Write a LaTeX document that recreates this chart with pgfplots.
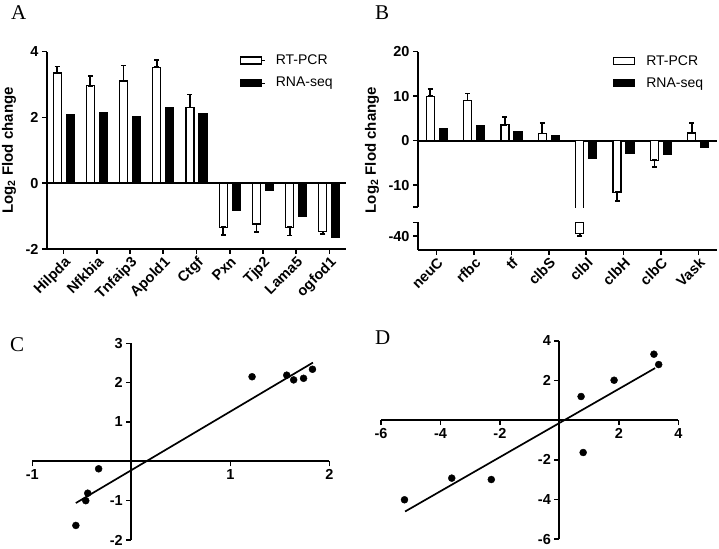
\documentclass[border=0pt]{standalone}
\usepackage{fontspec}
\setmainfont{Liberation Sans}
\newfontfamily\seriffont{Liberation Serif}
\usepackage{pgfplots}
\usepackage{pgfplotstable}
\pgfplotsset{compat=1.18}
\pgfplotsset{
  base/.style={
    scale only axis,
    enlargelimits=false,
    /pgf/number format/assume math mode=true,
    tick label style={font=\bfseries\fontsize{14.5}{16}\selectfont},
    axis line style={line width=1.8pt},
    major tick length=5pt,
    tick style={line width=1.6pt, black},
    tick align=outside,
    error bars/error bar style={line width=1.8pt, black},
    error bars/error mark options={line width=1.8pt, mark size=2.5pt, black, rotate=90},
  },
  rtbar/.style={draw=black, fill=white, line width=1.2pt, bar width=8pt, bar shift=-6.5pt},
  rnabar/.style={draw=black, fill=black, line width=1.2pt, bar width=8pt, bar shift=6.5pt},
  catlabels/.style={xticklabel style={rotate=45, anchor=north east, inner sep=1pt, font=\bfseries\fontsize{14.5}{16}\selectfont}},
  mylegend/.style={legend style={at={#1}, anchor=north west, draw=none, fill=none,
     font=\fontsize{14}{16}\selectfont, row sep=7pt, inner sep=0pt, column sep=9pt},
     legend cell align=left},
}
\pgfplotstableread{
x rt rtp rtm rna
0 3.35 0.20 0 2.09
1 2.96 0.29 0 2.15
2 3.11 0.47 0 2.04
3 3.53 0.21 0 2.31
4 2.30 0.40 0 2.11
5 -1.34 0 0.23 -0.84
6 -1.24 0 0.25 -0.22
7 -1.34 0 0.25 -1.02
8 -1.47 0 0.07 -1.65
}\tabA
\pgfplotstableread{
x rt rtp rtm
0 10.0 1.6 0
1 9.0 1.6 0
2 3.6 1.8 0
3 1.6 2.3 0
5 -11.6 0 1.9
6 -4.4 0 1.5
7 1.7 2.2 0
}\tabBrt
\pgfplotstableread{
x rna
0 2.8
1 3.3
2 2.0
3 1.2
4 -4.0
5 -2.9
6 -3.0
7 -1.6
}\tabBrna
\begin{document}
\begin{tikzpicture}
\useasboundingbox (0,0) rectangle (719pt,548pt);
% Panel letters
\node[anchor=base west, inner sep=0pt, font=\seriffont\fontsize{21}{21}\selectfont] at (11pt,528pt) {A};
\node[anchor=base west, inner sep=0pt, font=\seriffont\fontsize{21}{21}\selectfont] at (375pt,528pt) {B};
\node[anchor=base west, inner sep=0pt, font=\seriffont\fontsize{21}{21}\selectfont] at (10pt,196.3pt) {C};
\node[anchor=base west, inner sep=0pt, font=\seriffont\fontsize{21}{21}\selectfont] at (375pt,203pt) {D};

% Panel A
\begin{axis}[base, ybar, catlabels, mylegend={(0.645,0.995)},
  at={(47pt,299pt)}, anchor=south west, width=299pt, height=197.3pt,
  xmin=-0.5, xmax=8.5, ymin=-2, ymax=4, ytick={-2,0,2,4},
  axis x line*=bottom, axis y line*=left,
  xtick={0,...,8}, xticklabels={Hilpda,Nfkbia,Tnfaip3,Apold1,Ctgf,Pxn,Tjp2,Lama5,ogfod1},
  ylabel={Log\textsubscript{2} Flod change},
  ylabel style={font=\bfseries\fontsize{15}{17}\selectfont, at={(rel axis cs:0,0.5)}, yshift=38pt, anchor=center},
]
\addplot[rtbar, forget plot, error bars/.cd, y dir=both, y explicit]
  table[x=x, y=rt, y error plus=rtp, y error minus=rtm] {\tabA};
\addplot[rnabar, forget plot] table[x=x, y=rna] {\tabA};
\draw[line width=1.8pt] (axis cs:-0.5,0) -- (axis cs:8.5,0);
\addlegendimage{legend image code/.code={\draw[draw=black,fill=white,line width=1.2pt] (0pt,-3.5pt) rectangle (21pt,3.5pt); \path (21pt,0pt) -- (24pt,0pt);}}
\addlegendentry{RT-PCR}
\addlegendimage{legend image code/.code={\draw[draw=black,fill=black,line width=1.2pt] (0pt,-3.5pt) rectangle (21pt,3.5pt); \path (21pt,0pt) -- (24pt,0pt);}}
\addlegendentry{RNA-seq}
\end{axis}

% Panel B top
\begin{axis}[base, ybar, mylegend={(0.652,0.99)},
  at={(418pt,340.7pt)}, anchor=south west, width=299pt, height=155.6pt,
  xmin=-0.5, xmax=7.5, ymin=-15, ymax=20, ytick={-10,0,10,20},
  extra y ticks={-15}, extra y tick labels={},
  axis y line*=left, axis x line*=middle, xtick=\empty,
  ylabel={Log\textsubscript{2} Flod change},
  ylabel style={font=\bfseries\fontsize{15}{17}\selectfont, at={(rel axis cs:0,0.368)}, yshift=46pt, anchor=center},
]
\addplot[rtbar, forget plot, error bars/.cd, y dir=both, y explicit]
  table[x=x, y=rt, y error plus=rtp, y error minus=rtm] {\tabBrt};
\addplot[rtbar, forget plot] coordinates {(4,-39.4)};
\addplot[rnabar, forget plot] table[x=x, y=rna] {\tabBrna};
\addlegendimage{legend image code/.code={\draw[draw=black,fill=white,line width=1.2pt] (0pt,-3.5pt) rectangle (21pt,3.5pt);}}
\addlegendentry{RT-PCR}
\addlegendimage{legend image code/.code={\draw[draw=black,fill=black,line width=1.2pt] (0pt,-3.5pt) rectangle (21pt,3.5pt);}}
\addlegendentry{RNA-seq}
\end{axis}

% Panel B bottom
\begin{axis}[base, ybar, catlabels,
  at={(418pt,298pt)}, anchor=south west, width=299pt, height=27.7pt,
  xmin=-0.5, xmax=7.5, ymin=-43, ymax=-37, ytick={-40},
  extra y ticks={-37}, extra y tick labels={},
  axis y line*=left, axis x line*=bottom,
  xtick={0,...,7}, xticklabels={neuC,rfbc,tf,clbS,clbI,clbH,clbC,Vask},
]
\addplot[rtbar, forget plot, error bars/.cd, y dir=both, y explicit]
  coordinates {(4,-39.4) -= (0,0.5)};
\end{axis}

% Panel C
\begin{axis}[base,
  at={(32.3pt,8pt)}, anchor=south west, width=297pt, height=196.7pt,
  xmin=-1, xmax=2, ymin=-2, ymax=3, axis lines*=middle,
  xtick={-1,1,2}, ytick={-2,-1,1,2,3}, clip=false,
]
\addplot[only marks, mark=*, mark size=3.5pt, black] coordinates {
(-0.56,-1.63) (-0.46,-1.00) (-0.44,-0.81) (-0.33,-0.19) (1.22,2.15)
(1.57,2.19) (1.64,2.07) (1.74,2.11) (1.83,2.34)};
\addplot[line width=1.7pt, black] coordinates {(-0.56,-1.06) (1.835,2.51)};
\end{axis}

% Panel D
\begin{axis}[base,
  at={(381pt,8.7pt)}, anchor=south west, width=297.3pt, height=198.6pt,
  xmin=-6, xmax=4, ymin=-6, ymax=4, axis lines*=middle,
  xtick={-6,-4,-2,2,4}, ytick={-6,-4,-2,2,4}, clip=false,
]
\addplot[only marks, mark=*, mark size=3.5pt, black] coordinates {
(-5.21,-4.01) (-3.62,-2.92) (-2.29,-2.99) (0.73,1.19) (0.80,-1.63)
(1.84,2.01) (3.18,3.32) (3.34,2.80)};
\addplot[line width=1.7pt, black] coordinates {(-5.19,-4.60) (3.22,2.62)};
\end{axis}
\end{tikzpicture}
\end{document}
